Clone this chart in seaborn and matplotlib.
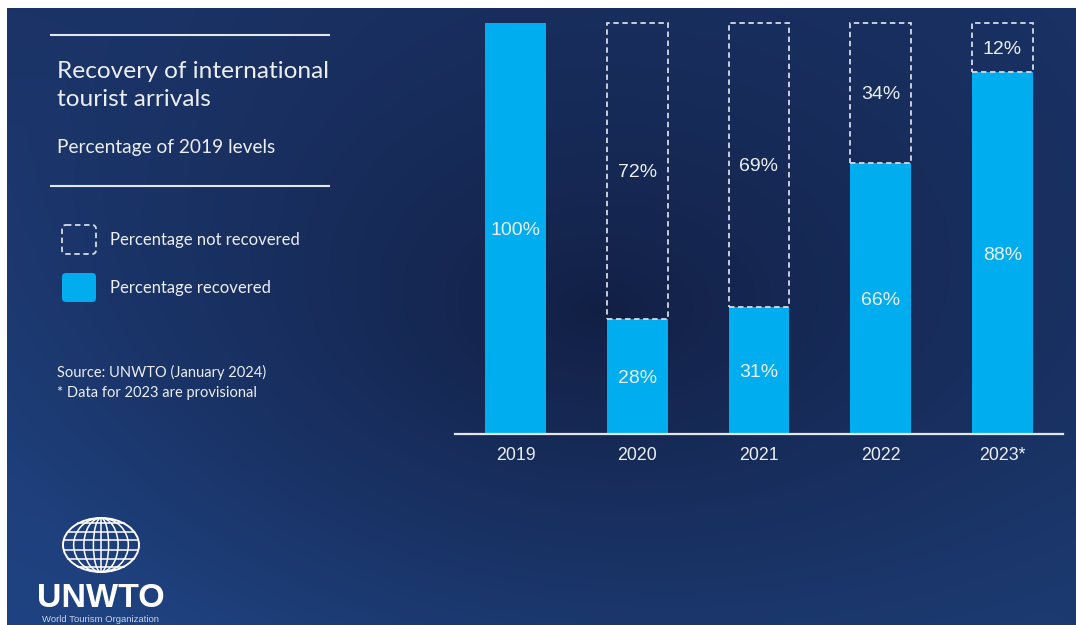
import numpy as np
import pandas as pd
import matplotlib
matplotlib.use("Agg")
import matplotlib.pyplot as plt
from matplotlib.patches import Ellipse, FancyBboxPatch
import seaborn as sns

# ---- data -------------------------------------------------------------
years = ["2019", "2020", "2021", "2022", "2023*"]
recovered = [100, 28, 31, 66, 88]          # % of 2019 arrivals recovered
not_recovered = [0, 72, 69, 34, 12]        # % still missing

title_lines = ["Recovery of international", "tourist arrivals"]
subtitle = "Percentage of 2019 levels"
legend_labels = ["Percentage not recovered", "Percentage recovered"]
notes = ["Source: UNWTO (January 2024)", "* Data for 2023 are provisional"]

# ---- style ------------------------------------------------------------
CYAN = "#00aeef"
TEXT = "#eceef4"
DASH = "#d6dae6"
RULE = "#e2e6ee"
PANEL_FONT = ["Lato", "DejaVu Sans"]
CHART_FONT = ["Liberation Sans", "DejaVu Sans"]

W, H = 1076, 625
fig = plt.figure(figsize=(W / 100, H / 100), dpi=100, facecolor="white")

# backdrop layer, addressed in pixels (y grows downward)
bg = fig.add_axes([0, 0, 1, 1], zorder=0)
bg.set_xlim(0, W)
bg.set_ylim(H, 0)
bg.axis("off")

# dark-blue radial backdrop
x0, y0 = 7, 8
yy, xx = np.mgrid[y0:H, x0:W].astype(float)
u = (xx - x0) / (W - x0)
v = (yy - y0) / (H - y0)
tl = np.array([27, 51, 102]); tr = np.array([25, 49, 99])
bl = np.array([31, 67, 130]); br = np.array([28, 58, 112])
edge = ((1 - u)[..., None] * (1 - v)[..., None] * tl + u[..., None] * (1 - v)[..., None] * tr
        + (1 - u)[..., None] * v[..., None] * bl + u[..., None] * v[..., None] * br)
dark = np.array([18, 31, 68])
t = np.clip(np.sqrt(((xx - 600) / 640) ** 2 + ((yy - 310) / 420) ** 2), 0, 1)[..., None]
rgb = dark + (edge - dark) * t ** 0.8
bg.imshow(rgb / 255.0, extent=(x0, W, H, y0), aspect="auto", interpolation="bilinear")

# ---- left panel -------------------------------------------------------
for yr in (35, 186):
    bg.plot([50, 330], [yr, yr], color=RULE, lw=1.5, solid_capstyle="butt")

bg.text(57, 78, title_lines[0], color=TEXT, fontsize=17.6, family=PANEL_FONT, va="baseline")
bg.text(57, 106, title_lines[1], color=TEXT, fontsize=17.6, family=PANEL_FONT, va="baseline")
bg.text(57, 153, subtitle, color=TEXT, fontsize=13.8, family=PANEL_FONT, va="baseline")

bg.add_patch(FancyBboxPatch((62, 225), 34, 29, boxstyle="round,pad=0,rounding_size=4",
                            fill=False, ec=DASH, lw=1.3, ls=(0, (3, 2))))
bg.add_patch(FancyBboxPatch((62, 273), 34, 29, boxstyle="round,pad=0,rounding_size=4",
                            fc=CYAN, ec="none"))
bg.text(110, 245, legend_labels[0], color=TEXT, fontsize=12, family=PANEL_FONT, va="baseline")
bg.text(110, 293, legend_labels[1], color=TEXT, fontsize=12, family=PANEL_FONT, va="baseline")

bg.text(57, 377, notes[0], color=TEXT, fontsize=10.5, family=PANEL_FONT, va="baseline")
bg.text(57, 397, notes[1], color=TEXT, fontsize=10.5, family=PANEL_FONT, va="baseline")

# ---- logo -------------------------------------------------------------
gx, gy, ga, gb = 101, 545, 38, 27
bg.add_patch(Ellipse((gx, gy), 2 * ga, 2 * gb, fill=False, ec="white", lw=1.4))
for f in (0.72, 0.45, 0.2):
    bg.add_patch(Ellipse((gx, gy), 2 * ga * f, 2 * gb, fill=False, ec="white", lw=1.1))
bg.plot([gx, gx], [gy - gb, gy + gb], color="white", lw=1.1)
for k in (-0.8, -0.5, -0.17, 0.17, 0.5, 0.8):
    half = ga * np.sqrt(1 - k ** 2)
    bg.plot([gx - half, gx + half], [gy + k * gb, gy + k * gb], color="white", lw=1.1)
bg.text(gx, 607, "UNWTO", color="white", fontsize=24.5, fontweight="bold",
        family=CHART_FONT, ha="center", va="baseline")
bg.text(gx, 622, "World Tourism Organization", color="#c9d2e6", fontsize=6.8,
        family=CHART_FONT, ha="center", va="baseline")

# ---- bar chart --------------------------------------------------------
ax = fig.add_axes([455 / W, (H - 434) / H, 608 / W, 411 / H], zorder=2)
ax.patch.set_alpha(0)

df = pd.DataFrame({"year": years, "recovered": recovered, "not_recovered": not_recovered})
sns.barplot(data=df, x="year", y="recovered", order=years, color=CYAN, saturation=1,
            width=0.5, linewidth=0, ax=ax)

gap = df[df["not_recovered"] > 0]
sns.barplot(data=gap, x="year", y="not_recovered", order=years, fill=False, color=DASH,
            width=0.5, linewidth=1.3, linestyle=(0, (3, 2)),
            bottom=gap["recovered"].to_numpy(), ax=ax)
for p in ax.patches:
    p.set_clip_on(False)

for i, (r, n) in enumerate(zip(recovered, not_recovered)):
    ax.text(i, r / 2, f"{r}%", color=TEXT, fontsize=14, family=CHART_FONT,
            ha="center", va="center_baseline")
    if n > 0:
        ax.text(i, r + n / 2, f"{n}%", color=TEXT, fontsize=14, family=CHART_FONT,
                ha="center", va="center_baseline")

ax.set_xlim(-0.5, len(years) - 0.5)
ax.set_ylim(0, 100)
ax.set_xlabel("")
ax.set_ylabel("")
ax.set_yticks([])
for side in ("top", "right", "left"):
    ax.spines[side].set_visible(False)
ax.spines["bottom"].set_color(RULE)
ax.spines["bottom"].set_linewidth(1.6)
ax.tick_params(axis="x", length=0, pad=9, labelsize=12.8, labelcolor=TEXT)
for lab in ax.get_xticklabels():
    lab.set_family(CHART_FONT)

fig.savefig("out.png", dpi=100, facecolor="white")
